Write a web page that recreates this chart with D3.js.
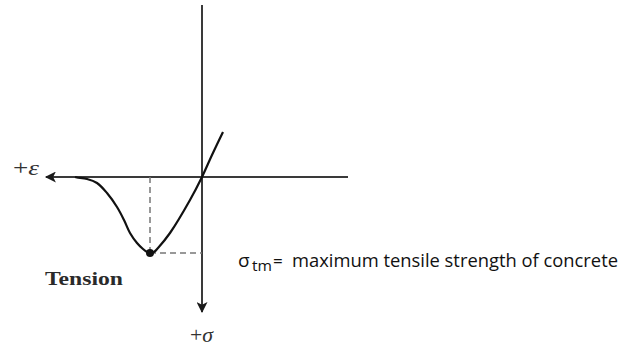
<!DOCTYPE html>
<html lang="en">
<head>
  <meta charset="UTF-8">
  <title>Tension curve</title>
  <script src="https://d3js.org/d3.v7.min.js"></script>
  <style>
    * { margin: 0; padding: 0; box-sizing: border-box; }
    body { background: #fff; }
  </style>
</head>
<body>
  <div id="chart"></div>
  <script>
    // strain (positive to the left) and stress (positive downward), arbitrary units
    const strain = [127, 125, 115, 105, 95, 85, 78, 72, 65, 59, 55, 52, 48, 44, 32, 12, 0, -10, -21];
    const stress = [0, 0.5, 2, 6, 16, 30, 43, 56, 66, 72, 75, 76, 75, 71, 56, 23, 0, -22, -45];
    const peak = {strain: 52, stress: 76};
    const axisExtent = {strainMax: 156, strainMin: -146, stressTop: -172, stressBottom: 135};

    const width = 626, height = 349;

    const svg = d3.select("#chart")
                  .append("svg")
                  .attr("width", width)
                  .attr("height", height);

    const x = d3.scaleLinear().domain([0, 100]).range([202, 102]);
    const y = d3.scaleLinear().domain([0, 100]).range([177, 277]);

    const defs = svg.append("defs");
    defs.append("marker")
        .attr("id", "arrow")
        .attr("viewBox", "0 0 10 10")
        .attr("refX", 9)
        .attr("refY", 5)
        .attr("markerUnits", "userSpaceOnUse")
        .attr("markerWidth", 14)
        .attr("markerHeight", 11)
        .attr("orient", "auto")
        .append("path")
        .attr("d", "M0,0 L10,5 L0,10 L2.5,5 Z")
        .attr("fill", "#1a1a1a");

    // axes
    svg.append("line")
       .attr("x1", x(axisExtent.strainMin)).attr("y1", y(0))
       .attr("x2", x(axisExtent.strainMax)).attr("y2", y(0))
       .attr("stroke", "#3a3a3a").attr("stroke-width", 2)
       .attr("marker-end", "url(#arrow)");

    svg.append("line")
       .attr("x1", x(0)).attr("y1", y(axisExtent.stressTop))
       .attr("x2", x(0)).attr("y2", y(axisExtent.stressBottom))
       .attr("stroke", "#3a3a3a").attr("stroke-width", 2)
       .attr("marker-end", "url(#arrow)");

    // dashed guides to peak
    svg.append("line")
       .attr("x1", x(peak.strain)).attr("y1", y(0))
       .attr("x2", x(peak.strain)).attr("y2", y(peak.stress))
       .attr("stroke", "#777").attr("stroke-width", 1.5)
       .attr("stroke-dasharray", "6,4");

    svg.append("line")
       .attr("x1", x(peak.strain)).attr("y1", y(peak.stress))
       .attr("x2", x(0)).attr("y2", y(peak.stress))
       .attr("stroke", "#777").attr("stroke-width", 1.5)
       .attr("stroke-dasharray", "6,4");

    // curve
    const pts = strain.map((s, i) => [s, stress[i]]);
    const line = d3.line()
                   .x(d => x(d[0]))
                   .y(d => y(d[1]))
                   .curve(d3.curveCatmullRom.alpha(0.5));

    svg.append("path")
       .datum(pts)
       .attr("d", line)
       .attr("fill", "none")
       .attr("stroke", "#111")
       .attr("stroke-width", 2.2);

    svg.append("circle")
       .attr("cx", x(peak.strain))
       .attr("cy", y(peak.stress))
       .attr("r", 4)
       .attr("fill", "#111");

    // labels
    const serif = "'Liberation Serif', 'DejaVu Serif', serif";

    const eps = svg.append("text")
       .attr("x", 13).attr("y", 175)
       .attr("textLength", 26)
       .attr("lengthAdjust", "spacingAndGlyphs")
       .style("font-family", serif)
       .style("font-size", "21px")
       .style("fill", "#333");
    eps.append("tspan").text("+");
    eps.append("tspan").style("font-style", "italic").text("ε");

    const sig = svg.append("text")
       .attr("x", 190).attr("y", 342)
       .attr("textLength", 23)
       .attr("lengthAdjust", "spacingAndGlyphs")
       .style("font-family", serif)
       .style("font-size", "21px")
       .style("fill", "#333");
    sig.append("tspan").text("+");
    sig.append("tspan").style("font-style", "italic").text("σ");

    svg.append("text")
       .attr("x", 45).attr("y", 285)
       .attr("textLength", 78)
       .attr("lengthAdjust", "spacingAndGlyphs")
       .style("font-family", serif)
       .style("font-size", "19px")
       .style("font-weight", "bold")
       .style("fill", "#2a2a2a")
       .text("Tension");

    const sans = "'Open Sans', 'Liberation Sans', sans-serif";
    const note = svg.append("g")
       .style("font-family", sans)
       .style("fill", "#111");
    note.append("text").attr("x", 238).attr("y", 267)
        .style("font-size", "19px").text("σ");
    note.append("text").attr("x", 252).attr("y", 271)
        .attr("textLength", 20).attr("lengthAdjust", "spacingAndGlyphs")
        .style("font-size", "14px").text("tm");
    note.append("text").attr("x", 273).attr("y", 267)
        .style("font-size", "17px").text("=");
    note.append("text")
       .attr("x", 292).attr("y", 267)
       .attr("textLength", 326)
       .attr("lengthAdjust", "spacingAndGlyphs")
       .style("font-size", "18px")
       .text("maximum tensile strength of concrete");
  </script>
</body>
</html>
